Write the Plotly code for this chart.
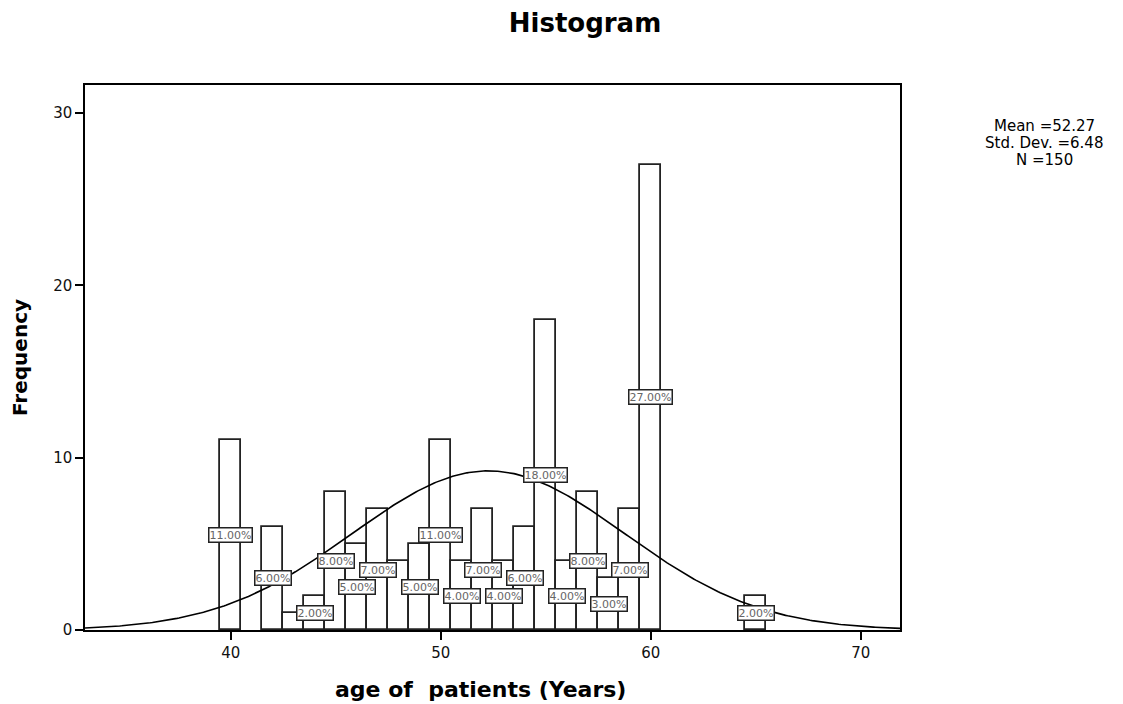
import numpy as np
import plotly.graph_objects as go

ages = [40, 42, 43, 44, 45, 46, 47, 48, 49, 50, 51, 52, 53, 54, 55, 56, 57, 58, 59, 60, 65]
counts = [11, 6, 1, 2, 8, 5, 7, 4, 5, 11, 4, 7, 4, 6, 18, 4, 8, 3, 7, 27, 2]
label_ages = [40, 42, 44, 45, 46, 47, 49, 50, 51, 52, 53, 54, 55, 56, 57, 58, 59, 60, 65]
label_texts = ["11.00%", "6.00%", "2.00%", "8.00%", "5.00%", "7.00%", "5.00%", "11.00%",
               "4.00%", "7.00%", "4.00%", "6.00%", "18.00%", "4.00%", "8.00%", "3.00%",
               "7.00%", "27.00%", "2.00%"]
stats_lines = ["Mean =52.27", "Std. Dev. =6.48", "N =150"]
mean_val = 52.27
sd_val = 6.48
n_val = 150
bin_width = 1.0
x_range = [33.06, 71.87]
y_range = [0, 31.63]

FONT = "DejaVu Sans, Arial"

fig = go.Figure()
fig.add_trace(go.Bar(x=ages, y=counts, width=bin_width,
                     marker=dict(color="white", line=dict(color="#222", width=1.8)),
                     showlegend=False, hoverinfo="x+y"))

xs = np.linspace(x_range[0], x_range[1], 400)
ys = n_val * bin_width / (sd_val * np.sqrt(2 * np.pi)) * np.exp(-0.5 * ((xs - mean_val) / sd_val) ** 2)
fig.add_trace(go.Scatter(x=xs, y=ys, mode="lines", line=dict(color="black", width=1.6),
                         showlegend=False))

cmap = dict(zip(ages, counts))
for a, t in zip(label_ages, label_texts):
    fig.add_annotation(x=a, y=cmap[a] / 2, text=t, showarrow=False,
                       font=dict(family=FONT, size=11, color="#666"),
                       bgcolor="white", bordercolor="#222", borderwidth=1.5, borderpad=0)

# stats text (three lines, plot-area fraction coordinates)
for i, line in enumerate(stats_lines):
    fig.add_annotation(xref="paper", yref="paper", x=1.1767, y=0.9248 - i * 0.0312,
                       text=line, showarrow=False, xanchor="center", yanchor="middle",
                       font=dict(family=FONT, size=15, color="black"))

# x-axis title
fig.add_annotation(xref="paper", yref="paper", x=0.4847, y=-0.110,
                   text="<b>age of\u00a0\u00a0patients (Years)</b>", showarrow=False,
                   xanchor="center", yanchor="middle",
                   font=dict(family=FONT, size=22, color="black"))

fig.update_layout(
    width=1123, height=704,
    margin=dict(l=77, r=231, t=77, b=82),
    plot_bgcolor="white", paper_bgcolor="white",
    bargap=0,
    title=dict(text="<b>Histogram</b>", x=0.5138, xanchor="center", y=0.9787, yanchor="middle",
               font=dict(family=FONT, size=26, color="black")),
    font=dict(family=FONT, color="black"),
    xaxis=dict(range=x_range, tickvals=[40, 50, 60, 70], ticks="outside", ticklen=8,
               tickwidth=1.5, tickcolor="black", showgrid=False, zeroline=False, showline=True,
               linecolor="black", linewidth=1.5, mirror=True,
               tickfont=dict(family=FONT, size=15, color="#111")),
    yaxis=dict(range=y_range, tickvals=[0, 10, 20, 30], ticks="outside", ticklen=8,
               tickwidth=1.5, tickcolor="black", showgrid=False, zeroline=False, showline=True,
               linecolor="black", linewidth=1.5, mirror=True,
               tickfont=dict(family=FONT, size=15, color="#111"),
               title=dict(text="<b>Frequency</b>", font=dict(family=FONT, size=20), standoff=20)),
)

fig.write_html("out.html")
